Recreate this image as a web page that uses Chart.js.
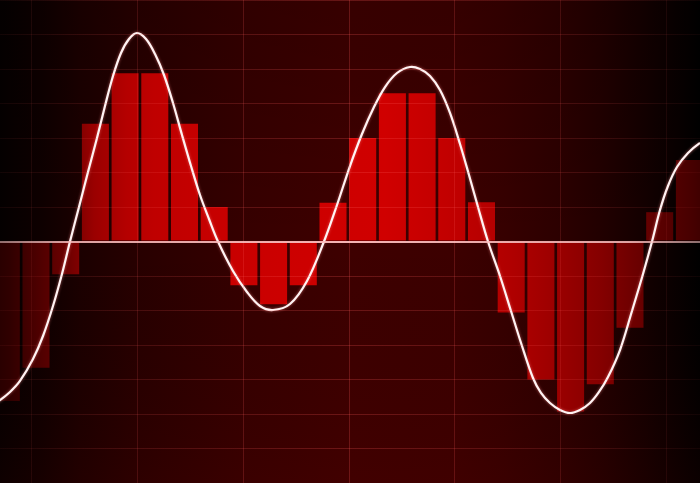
<!DOCTYPE html>
<html><head><meta charset="utf-8">
<script src="https://cdn.jsdelivr.net/npm/chart.js@4.4.1/dist/chart.umd.min.js"></script>
<style>html,body{margin:0;padding:0;background:#000;overflow:hidden}canvas{display:block}</style>
</head><body>
<canvas id="c" width="700" height="483"></canvas>
<script>
// Bar slots (category index) and bar values (grid units above/below the baseline)
const barSlots = [0,1,2,3,4,5,6,7,8,9,10,11,12,13,14,15,16,17,18,19,20,21,22,23];
const barValues = [-4.62,-3.66,-0.95,3.41,4.88,4.88,3.41,1.0,-1.27,-1.82,-1.27,1.12,3.0,4.3,4.3,3.0,1.14,-2.06,-4.0,-4.93,-4.14,-2.5,0.85,2.36];

// Curve samples (x in bar-slot units, y in grid units)
const curveX = [-0.549,-0.212,0.125,0.461,0.899,1.236,1.572,1.875,2.145,2.448,2.751,3.054,3.323,3.593,3.862,4.131,4.401,4.704,5.007,5.310,5.613,5.916,6.219,6.522,6.825,7.128,7.633,8.104,8.542,8.980,9.552,10.125,10.697,11.135,11.572,11.976,12.380,12.751,13.155,13.593,13.929,14.266,14.603,14.939,15.276,15.579,15.882,16.219,16.623,16.993,17.364,17.734,18.003,18.306,18.643,18.980,19.316,19.653,19.956,20.259,20.663,21.067,21.438,21.741,22.010,22.279,22.582,22.953,23.357,23.761];
const curveY = [-4.768,-4.594,-4.362,-4.043,-3.406,-2.739,-1.870,-0.942,0,0.999,2.014,3.0,3.928,4.797,5.464,5.870,6.043,5.870,5.435,4.826,4.014,3.087,2.188,1.348,0.652,0,-0.855,-1.464,-1.870,-1.986,-1.812,-1.145,0,1.058,2.188,3.116,3.899,4.478,4.884,5.058,5.0,4.797,4.391,3.725,2.826,1.928,1.0,0,-1.0,-2.014,-3.029,-3.957,-4.391,-4.681,-4.884,-4.971,-4.884,-4.681,-4.362,-3.928,-3.145,-2.014,-0.942,0,0.913,1.609,2.159,2.565,2.855,3.058];

const canvas = document.getElementById('c');
const ctx = canvas.getContext('2d');

function hGrad(stops){
  const g = ctx.createLinearGradient(0,0,700,0);
  stops.forEach(s=>g.addColorStop(s[0],s[1]));
  return g;
}
const bgGrad = hGrad([[0,'#040000'],[0.06,'#0e0000'],[0.115,'#1b0000'],[0.2,'#280000'],[0.35,'#360000'],[0.5,'#3e0000'],[0.65,'#3c0000'],[0.72,'#360000'],[0.8,'#2c0000'],[0.86,'#210000'],[0.93,'#110000'],[1,'#000000']]);
const barGrad = hGrad([[0,'#2a0000'],[0.014,'#300000'],[0.05,'#4a0000'],[0.094,'#6a0000'],[0.134,'#9a0000'],[0.18,'#b40000'],[0.22,'#bf0000'],[0.3,'#c60000'],[0.4,'#cc0000'],[0.55,'#d00000'],[0.64,'#c20000'],[0.73,'#b00000'],[0.775,'#a20000'],[0.816,'#940000'],[0.86,'#840000'],[0.9,'#700000'],[0.944,'#5a0000'],[0.986,'#480000'],[1,'#400000']]);
const gridGrad = hGrad([[0,'rgba(255,90,90,0.06)'],[0.15,'rgba(255,90,90,0.14)'],[0.5,'rgba(255,90,90,0.24)'],[0.85,'rgba(255,90,90,0.14)'],[1,'rgba(255,90,90,0.05)']]);
const baseGrad = hGrad([[0,'rgba(255,200,200,0.55)'],[0.1,'rgba(255,190,190,0.85)'],[0.5,'rgba(255,190,190,0.95)'],[0.9,'rgba(255,190,190,0.85)'],[1,'rgba(255,200,200,0.55)']]);

const bgPlugin = {
  id:'bg',
  beforeDraw(chart){
    const c = chart.ctx;
    c.save();
    c.fillStyle = bgGrad;
    c.fillRect(0,0,chart.width,chart.height);
    const v = c.createLinearGradient(0,0,0,chart.height);
    v.addColorStop(0,'rgba(0,0,0,0.12)');
    v.addColorStop(0.5,'rgba(0,0,0,0)');
    v.addColorStop(1,'rgba(90,0,0,0.12)');
    c.fillStyle = v;
    c.fillRect(0,0,chart.width,chart.height);
    c.restore();
  }
};
const glowPlugin = {
  id:'glow',
  beforeDatasetDraw(chart,args){
    if(args.index===1){ chart.ctx.save(); chart.ctx.shadowColor='rgba(255,140,140,0.6)'; chart.ctx.shadowBlur=3; }
  },
  afterDatasetDraw(chart,args){ if(args.index===1){ chart.ctx.restore(); } }
};

new Chart(ctx, {
  data: {
    datasets: [
      {
        type:'bar',
        data: barSlots.map((k,i)=>({x:k,y:barValues[i]})),
        backgroundColor: barGrad,
        borderWidth: 0,
        categoryPercentage: 1,
        barPercentage: 0.91,
        xAxisID:'x', yAxisID:'y',
        order: 1
      },
      {
        type:'line',
        data: curveX.map((x,i)=>({x:x,y:curveY[i]})),
        borderColor:'#fff3f3',
        borderWidth:2.2,
        pointRadius:0,
        tension:0.35,
        fill:false,
        xAxisID:'x', yAxisID:'y',
        order: 0
      }
    ]
  },
  options: {
    responsive:false,
    animation:false,
    devicePixelRatio:1,
    layout:{padding:0},
    plugins:{legend:{display:false},tooltip:{enabled:false}},
    scales:{
      x:{type:'linear',min:-0.212,max:23.357,offset:false,display:false},
      xg:{type:'linear',position:'bottom',min:-3.30,max:3.316,
          ticks:{display:false,stepSize:1,includeBounds:false},
          grid:{color:gridGrad,lineWidth:1,drawTicks:false,z:1},
          border:{display:false}},
      y:{type:'linear',min:-7,max:7,
         ticks:{display:false,stepSize:1},
         grid:{
           color:(c)=> (c.tick && c.tick.value===0) ? baseGrad : gridGrad,
           lineWidth:(c)=> (c.tick && c.tick.value===0) ? 2 : 1,
           drawTicks:false,z:1},
         border:{display:false}}
    }
  },
  plugins:[bgPlugin,glowPlugin]
});
</script>
</body></html>
